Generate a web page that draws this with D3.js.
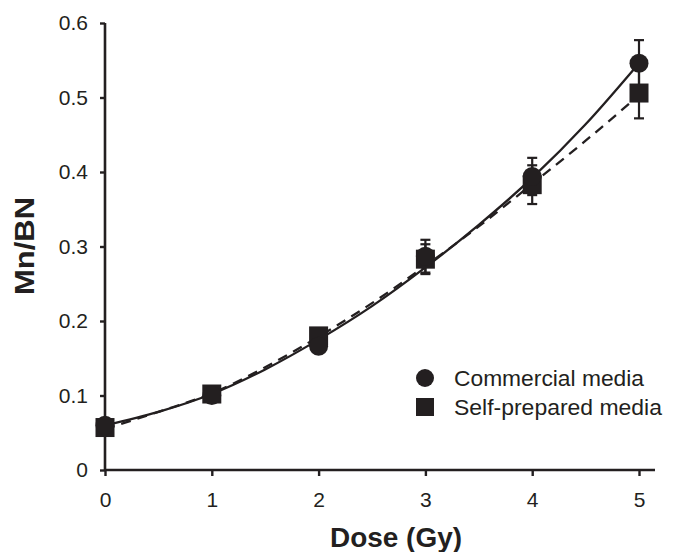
<!DOCTYPE html>
<html>
<head>
<meta charset="utf-8">
<script src="https://cdn.jsdelivr.net/npm/d3@7"></script>
<style>
  html, body { margin: 0; padding: 0; background: #fff; }
  svg { display: block; }
  text { font-family: "Liberation Sans", Arial, sans-serif; fill: #231f20; }
</style>
</head>
<body>
<svg id="chart" width="673" height="552"></svg>
<script>
// ---- data ----
const doses = [0, 1, 2, 3, 4, 5];
const commercialMean = [0.060, 0.100, 0.166, 0.287, 0.394, 0.546];
const commercialErr  = [0.004, 0.004, 0.008, 0.022, 0.025, 0.031];
const selfMean = [0.057, 0.102, 0.180, 0.283, 0.383, 0.506];
const selfErr  = [0.004, 0.004, 0.008, 0.020, 0.026, 0.034];
// fitted curves
const curveDoses = [0, 0.5, 1, 1.5, 2, 2.5, 3, 3.5, 4, 4.5, 5];
const commercialFit = [0.060, 0.078, 0.102, 0.135, 0.175, 0.220, 0.272, 0.329, 0.392, 0.464, 0.546];
const selfFit       = [0.055, 0.078, 0.103, 0.138, 0.179, 0.224, 0.274, 0.327, 0.384, 0.442, 0.503];
const xTicks = [0, 1, 2, 3, 4, 5];
const yTicks = [0, 0.1, 0.2, 0.3, 0.4, 0.5, 0.6];
const yTickLabels = ["0", "0.1", "0.2", "0.3", "0.4", "0.5", "0.6"];
const legendLabels = ["Commercial media", "Self-prepared media"];
const xTitle = "Dose (Gy)";
const yTitle = "Mn/BN";

// ---- drawing ----
const ink = "#231f20";
const font = '"Liberation Sans", Arial, sans-serif';
const svg = d3.select("#chart");
const x = d3.scaleLinear().domain([0, 5]).range([105, 639]);
const y = d3.scaleLinear().domain([0, 0.6]).range([470, 23]);

// axes
const xAxis = svg.append("g").attr("transform", `translate(0,${y(0)})`)
  .call(d3.axisBottom(x).tickValues(xTicks).tickSize(6).tickPadding(16).tickFormat(d3.format("d")));
xAxis.select(".domain").attr("d", `M${x(0)},0H${x(5) + 16}`);
const yAxis = svg.append("g").attr("transform", `translate(${x(0)},0)`)
  .call(d3.axisLeft(y).tickValues(yTicks).tickSize(5).tickPadding(12)
    .tickFormat((d, i) => yTickLabels[i]));
yAxis.select(".domain").attr("d", `M0,${y(0.6)}V${y(0)}`);
[xAxis, yAxis].forEach(g => {
  g.selectAll(".domain").attr("stroke", ink).attr("stroke-width", 2.6).attr("fill", "none");
  g.selectAll(".tick line").attr("stroke", ink).attr("stroke-width", 2.4);
  g.selectAll(".tick text").attr("font-size", 21).attr("fill", ink)
    .style("font-family", font);
});

// titles
svg.append("text").attr("x", 396).attr("y", 547).attr("text-anchor", "middle")
  .attr("font-size", 27).attr("font-weight", "bold")
  .attr("textLength", 132).attr("lengthAdjust", "spacingAndGlyphs").text(xTitle);
svg.append("text").attr("transform", `translate(34,246) rotate(-90)`)
  .attr("text-anchor", "middle").attr("font-size", 27).attr("font-weight", "bold")
  .attr("textLength", 98).attr("lengthAdjust", "spacingAndGlyphs").text(yTitle);

// curves
const line = d3.line().curve(d3.curveMonotoneX);
svg.append("path")
  .attr("d", line(curveDoses.map((d, i) => [x(d), y(commercialFit[i])])))
  .attr("fill", "none").attr("stroke", ink).attr("stroke-width", 2.3);
svg.append("path")
  .attr("d", line(curveDoses.map((d, i) => [x(d), y(selfFit[i])])))
  .attr("fill", "none").attr("stroke", ink).attr("stroke-width", 2.3)
  .attr("stroke-dasharray", "10,7");

// error bars
function errorBars(means, errs) {
  const g = svg.append("g").attr("stroke", ink).attr("stroke-width", 2.2);
  doses.forEach((d, i) => {
    const cx = x(d), top = y(means[i] + errs[i]), bot = y(means[i] - errs[i]);
    g.append("line").attr("x1", cx).attr("x2", cx).attr("y1", top).attr("y2", bot);
    g.append("line").attr("x1", cx - 5).attr("x2", cx + 5).attr("y1", top).attr("y2", top);
    g.append("line").attr("x1", cx - 5).attr("x2", cx + 5).attr("y1", bot).attr("y2", bot);
  });
}
errorBars(selfMean, selfErr);
errorBars(commercialMean, commercialErr);

// markers
const s = 19;
svg.append("g").selectAll("rect").data(doses).join("rect")
  .attr("x", d => x(d) - s / 2).attr("y", (d, i) => y(selfMean[i]) - s / 2)
  .attr("width", s).attr("height", s).attr("fill", ink);
svg.append("g").selectAll("circle").data(doses).join("circle")
  .attr("cx", d => x(d)).attr("cy", (d, i) => y(commercialMean[i]))
  .attr("r", 9.5).attr("fill", ink);

// legend
const leg = svg.append("g");
leg.append("circle").attr("cx", 425).attr("cy", 378).attr("r", 9).attr("fill", ink);
leg.append("rect").attr("x", 416).attr("y", 398).attr("width", 18).attr("height", 18).attr("fill", ink);
leg.append("text").attr("x", 454).attr("y", 386).attr("font-size", 22)
  .attr("textLength", 190).attr("lengthAdjust", "spacingAndGlyphs").text(legendLabels[0]);
leg.append("text").attr("x", 454).attr("y", 415).attr("font-size", 22)
  .attr("textLength", 208).attr("lengthAdjust", "spacingAndGlyphs").text(legendLabels[1]);
</script>
</body>
</html>
